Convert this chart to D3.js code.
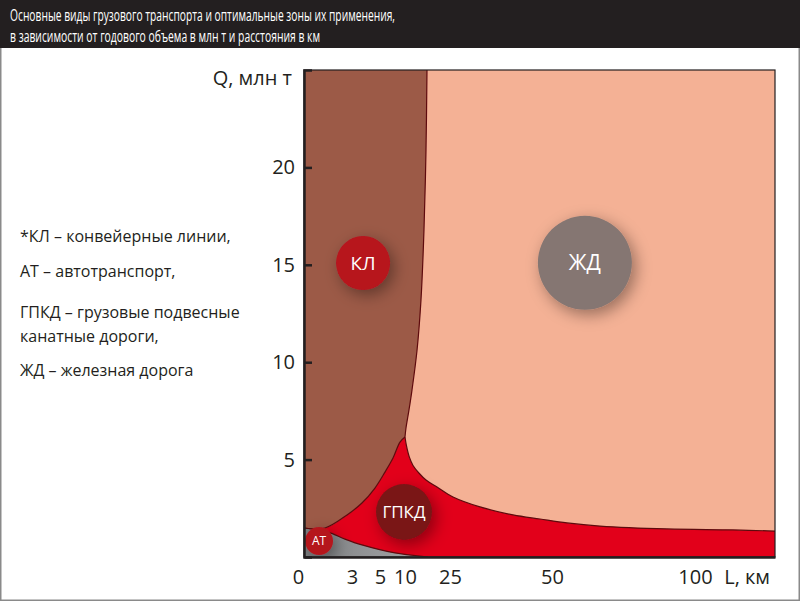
<!DOCTYPE html>
<html><head><meta charset="utf-8">
<script src="https://cdn.jsdelivr.net/npm/d3@7"></script>
<style>
html,body{margin:0;padding:0;background:#fff;}
svg{display:block;font-family:"Open Sans",sans-serif;}
</style></head>
<body>
<svg id="chart" width="800" height="601"></svg>
<script>
// ---- data ----
const titleLines = ["Основные виды грузового транспорта и оптимальные зоны их применения,",
                    "в зависимости от годового объема в млн т и расстояния в км"];
const legendLines = ["*КЛ – конвейерные линии,", "АТ – автотранспорт,", "ГПКД – грузовые подвесные",
                     "канатные дороги,", "ЖД – железная дорога"];
const xTickValues = [0, 3, 5, 10, 25, 50, 100];
const yTickValues = [5, 10, 15, 20];
const xAxisTitle = "L, км";
const yAxisTitle = "Q, млн т";
// boundary КЛ / ЖД  [L, Q]
const klZhdBoundary = [[17.33,25],[17.0,20.9],[16.33,16.8],[15.33,13.2],[14.0,10.6],[12.33,8.57],[11.33,7.55],[10.33,6.62],[10,6.16]];
// boundary КЛ / ГПКД (from tip downwards)
const klGpkdBoundary = [[10,6.16],[9.0,5.9],[7.6,5.08],[6.0,4.36],[4.64,3.54],[3.71,2.77],[2.69,2.16],[1.31,1.49],[0,1.49]];
// boundary ГПКД / ЖД (from tip to the right)
const gpkdZhdBoundary = [[10,6.16],[10.5,5.7],[11.4,5.15],[12.67,4.7],[14.7,4.3],[17,3.95],[20.67,3.59],[25.74,3.08],[32.35,2.57],[40.44,2.16],[47.06,1.95],[55.24,1.75],[66.78,1.59],[90.2,1.44],[113.3,1.39],[128,1.33]];
// boundary АТ / ГПКД
const atBoundary = [[0,1.49],[1.5,1.28],[2.56,0.92],[3.71,0.62],[8.0,0.21],[17.67,0]];
// zone labels
const zones = [
  {name:"КЛ",   L:3.79, Q:15.09, r:27, fill:"#b7131f", fs:19},
  {name:"ЖД",   L:61.5, Q:15.1,  r:47, fill:"#857672", fs:21},
  {name:"ГПКД", L:9.8,  Q:2.31,  r:28, fill:"#7a1517", fs:17},
  {name:"АТ",   L:0.94, Q:0.82,  r:14, fill:"#b5161f", fs:12}
];

// ---- scales ----
const svg = d3.select("#chart");
const Lmax = 128, Qmax = 25;
const x = d3.scaleLinear().domain([0,3,5,10,25,50,100,Lmax]).range([304,352,380,405,450,552,695,775]);
const y = d3.scaleLinear().domain([0,Qmax]).range([557,70]);

const defs = svg.append("defs");
const sh = defs.append("filter").attr("id","shadow").attr("x","-80%").attr("y","-80%").attr("width","260%").attr("height","260%");
sh.append("feDropShadow").attr("dx",4).attr("dy",5).attr("stdDeviation",8).attr("flood-color","#000").attr("flood-opacity",0.38);
const gg = defs.append("linearGradient").attr("id","greyGrad").attr("x1","0").attr("x2","1").attr("y1","0").attr("y2","0");
gg.append("stop").attr("offset","0%").attr("stop-color","#7d7f81");
gg.append("stop").attr("offset","100%").attr("stop-color","#a7a8aa");
const clip = defs.append("clipPath").attr("id","plotClip");
clip.append("rect").attr("x",x(0)).attr("y",y(Qmax)).attr("width",x(Lmax)-x(0)).attr("height",y(0)-y(Qmax));

// outer frame & title bar
svg.append("rect").attr("x",0.75).attr("y",0.75).attr("width",798.5).attr("height",599.5).attr("fill","#fff").attr("stroke","#8a8a8a").attr("stroke-width",1.5);
svg.append("rect").attr("x",0).attr("y",0).attr("width",800).attr("height",48).attr("fill","#231f20");
const titleW = [385, 310];
svg.selectAll("text.title").data(titleLines).join("text").attr("class","title")
  .attr("x",10).attr("y",(d,i)=>21+i*21).attr("fill","#fff").attr("font-size",17)
  .attr("textLength",(d,i)=>titleW[i]).attr("lengthAdjust","spacingAndGlyphs").text(d=>d);

// legend
const legendY = [242,277,318,342,376];
svg.selectAll("text.leg").data(legendLines).join("text").attr("class","leg")
  .attr("x",20).attr("y",(d,i)=>legendY[i]).attr("fill","#231f20").attr("font-size",16).text(d=>d);

// plot
const plot = svg.append("g").attr("clip-path","url(#plotClip)");
const line = d3.line().x(d=>x(d[0])).y(d=>y(d[1])).curve(d3.curveCatmullRom.alpha(0.5));

// background ЖД
plot.append("rect").attr("x",x(0)).attr("y",y(Qmax)).attr("width",x(Lmax)-x(0)).attr("height",y(0)-y(Qmax)).attr("fill","#f4b195");
// red ГПКД
const redD = "M"+x(0)+","+y(0)
  + "L" + line(klGpkdBoundary.slice().reverse()).slice(1)
  + "L" + line(gpkdZhdBoundary).slice(1)
  + "L" + x(Lmax)+","+y(0) + "Z";
plot.append("path").attr("d",redD).attr("fill","#e2001a");
// brown КЛ
const brownD = "M"+x(0)+","+y(Qmax)
  + "L" + line(klZhdBoundary).slice(1)
  + "L" + line(klGpkdBoundary.slice(1)).slice(1)
  + "Z";
plot.append("path").attr("d",brownD).attr("fill","#9c5a47");
// grey АТ
const greyD = "M"+x(0)+","+y(0)+"L"+line(atBoundary).slice(1)+"Z";
plot.append("path").attr("d",greyD).attr("fill","url(#greyGrad)");
// boundary strokes
[klZhdBoundary, klGpkdBoundary, gpkdZhdBoundary, atBoundary].forEach(b=>{
  plot.append("path").attr("d",line(b)).attr("fill","none").attr("stroke","#5e0a0d").attr("stroke-width",1.2);
});

// zone circles
const zg = plot.selectAll("g.zone").data(zones).join("g").attr("class","zone")
  .attr("transform",d=>`translate(${x(d.L)},${y(d.Q)})`);
zg.append("circle").attr("r",d=>d.r).attr("fill",d=>d.fill).attr("filter","url(#shadow)");
zg.append("text").attr("text-anchor","middle").attr("dy","0.36em").attr("fill","#fff")
  .attr("font-size",d=>d.fs).text(d=>d.name);

// frame
svg.append("rect").attr("x",x(0)).attr("y",y(Qmax)).attr("width",x(Lmax)-x(0)).attr("height",y(0)-y(Qmax))
  .attr("fill","none").attr("stroke","#231f20").attr("stroke-width",1.2);

// axes
const yAxis = svg.append("g").attr("transform",`translate(${x(0)},0)`)
  .call(d3.axisLeft(y).tickValues(yTickValues).tickSize(-8).tickPadding(9));
yAxis.select(".domain").attr("stroke","#231f20").attr("stroke-width",2.5);
yAxis.selectAll(".tick line").attr("stroke","#231f20").attr("stroke-width",2.5);
yAxis.selectAll(".tick text").attr("font-size",20).attr("font-family","Open Sans, sans-serif").attr("fill","#231f20");

const xAxis = svg.append("g").attr("transform",`translate(0,${y(0)})`)
  .call(d3.axisBottom(x).tickValues(xTickValues).tickSize(0).tickPadding(13).tickFormat(d3.format("d")));
xAxis.select(".domain").attr("stroke","#231f20").attr("stroke-width",2.5);
xAxis.selectAll(".tick text").attr("font-size",20).attr("font-family","Open Sans, sans-serif").attr("fill","#231f20")
  .attr("dx",d=>d===0?-6:0);

svg.append("text").attr("x",x(Lmax)-5).attr("y",y(0)+27).attr("text-anchor","end")
  .attr("font-size",20).attr("fill","#231f20").text(xAxisTitle);
svg.append("text").attr("x",x(0)-12).attr("y",y(Qmax)+15).attr("text-anchor","end")
  .attr("font-size",20).attr("fill","#231f20").text(yAxisTitle);
</script>
</body></html>
